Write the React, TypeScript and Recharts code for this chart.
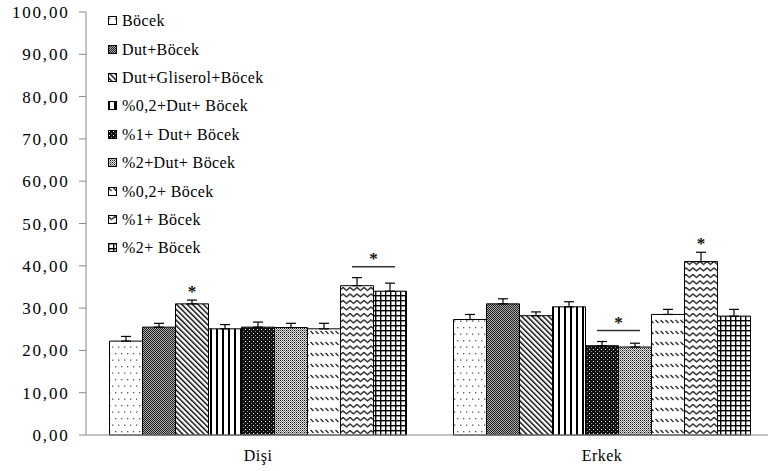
import React from 'react';
import { BarChart, Bar, XAxis, YAxis, ErrorBar, Legend } from 'recharts';

const CATEGORIES = ['Dişi', 'Erkek'];
const SERIES_NAMES = [
  'Böcek',
  'Dut+Böcek',
  'Dut+Gliserol+Böcek',
  '%0,2+Dut+ Böcek',
  '%1+ Dut+ Böcek',
  '%2+Dut+ Böcek',
  '%0,2+ Böcek',
  '%1+ Böcek',
  '%2+ Böcek',
];
const DISI_VALUES = [22.2, 25.5, 31.0, 25.1, 25.5, 25.4, 25.1, 35.3, 34.0];
const DISI_ERRORS = [1.1, 0.9, 0.9, 1.0, 1.2, 1.0, 1.3, 1.9, 1.9];
const ERKEK_VALUES = [27.3, 31.0, 28.2, 30.3, 21.1, 20.8, 28.5, 41.0, 28.1];
const ERKEK_ERRORS = [1.2, 1.2, 0.9, 1.2, 1.0, 0.9, 1.2, 2.2, 1.6];
const Y_TICKS = [0, 10, 20, 30, 40, 50, 60, 70, 80, 90, 100];
const STAR_MARKS = [
  { category: 0, series: 2 },
  { category: 1, series: 7 },
];
const PAIR_MARKS = [
  { category: 0, from: 7, to: 8 },
  { category: 1, from: 4, to: 5 },
];

const VALUES = [DISI_VALUES, ERKEK_VALUES];
const ERRORS = [DISI_ERRORS, ERKEK_ERRORS];

const data = CATEGORIES.map((name, ci) => {
  const row: any = { name };
  SERIES_NAMES.forEach((_, si) => {
    row['s' + si] = VALUES[ci][si];
    row['e' + si] = [0, ERRORS[ci][si]];
  });
  return row;
});

const FONT = '"Liberation Serif", "Times New Roman", serif';

const Patterns = () => (
  <svg width="0" height="0" style={{ position: 'absolute', left: 0, top: 0 }}>
    <defs>
      <pattern id="p0" width="6" height="13" patternUnits="userSpaceOnUse">
        <rect width="6" height="13" fill="#fff" />
        <rect x="1" y="2" width="1.3" height="1.3" fill="#555" />
        <rect x="4" y="8.5" width="1.3" height="1.3" fill="#555" />
      </pattern>
      <pattern id="p1" width="2" height="2" patternUnits="userSpaceOnUse">
        <rect width="2" height="2" fill="#aaa" />
        <rect x="0" y="0" width="1" height="1" fill="#222" />
        <rect x="1" y="1" width="1" height="1" fill="#222" />
      </pattern>
      <pattern id="p2" width="3.8" height="10" patternUnits="userSpaceOnUse" patternTransform="rotate(-45)">
        <rect width="3.8" height="10" fill="#fff" />
        <rect x="0" y="0" width="1.4" height="10" fill="#000" />
      </pattern>
      <pattern id="p3" width="6" height="6" patternUnits="userSpaceOnUse">
        <rect width="6" height="6" fill="#fff" />
        <rect x="0" y="0" width="2" height="6" fill="#000" />
      </pattern>
      <pattern id="p4" width="4" height="4" patternUnits="userSpaceOnUse">
        <rect width="4" height="4" fill="#111" />
        <rect x="1" y="1" width="1" height="1" fill="#fff" />
        <rect x="3" y="3" width="1" height="1" fill="#888" />
      </pattern>
      <pattern id="p5" width="4" height="4" patternUnits="userSpaceOnUse">
        <rect width="4" height="4" fill="#ddd" />
        <rect x="0" y="0" width="1" height="1" fill="#000" />
        <rect x="2" y="2" width="1" height="1" fill="#000" />
        <rect x="2" y="0" width="1" height="1" fill="#444" />
        <rect x="0" y="2" width="1" height="1" fill="#444" />
        <rect x="1" y="1" width="1" height="1" fill="#888" />
        <rect x="3" y="3" width="1" height="1" fill="#888" />
        <rect x="1" y="3" width="1" height="1" fill="#888" />
        <rect x="3" y="1" width="1" height="1" fill="#888" />
      </pattern>
      <pattern id="p6" width="5" height="11" patternUnits="userSpaceOnUse">
        <rect width="5" height="11" fill="#fff" />
        <line x1="0.5" y1="1" x2="3.5" y2="4" stroke="#222" strokeWidth="1.2" />
      </pattern>
      <pattern id="p7" width="7" height="6.5" patternUnits="userSpaceOnUse">
        <rect width="7" height="6.5" fill="#fff" />
        <polyline points="-1.75,3.5 0,1.5 3.5,4.5 7,1.5 8.75,3.5" fill="none" stroke="#111" strokeWidth="1.2" strokeLinejoin="round" />
      </pattern>
      <pattern id="p8" width="5" height="5" patternUnits="userSpaceOnUse">
        <rect width="5" height="5" fill="#fff" />
        <rect x="0" y="0" width="1.4" height="5" fill="#000" />
        <rect x="0" y="0" width="5" height="1.4" fill="#000" />
      </pattern>
    </defs>
  </svg>
);

const renderLegend = () => (
  <div style={{ fontFamily: FONT, fontSize: 16, color: '#000' }}>
    {SERIES_NAMES.map((n, i) => (
      <div key={n} style={{ height: 28.4, display: 'flex', alignItems: 'center', whiteSpace: 'nowrap' }}>
        <svg width="10" height="10" style={{ marginRight: 4 }}>
          <rect x="0.5" y="0.5" width="8" height="8" fill={`url(#p${i})`} stroke="#000" strokeWidth="1" />
        </svg>
        <span style={{ letterSpacing: 0.4 }}>{n}</span>
      </div>
    ))}
  </div>
);

const renderAnno = (si: number) => (p: any) => {
  const x = Number(p.x);
  const y = Number(p.y);
  const width = Number(p.width);
  const height = Number(p.height);
  const ci = p.index;
  if (ci == null || !isFinite(x)) return null;
  const v = VALUES[ci][si];
  const k = height / v;
  const bottom = y + height;
  const cap = bottom - (v + ERRORS[ci][si]) * k;
  const els: any[] = [];
  if (STAR_MARKS.some((m) => m.category === ci && m.series === si)) {
    els.push(
      <text key="s" x={x + width / 2} y={cap - 3} textAnchor="middle" fontFamily={FONT} fontSize={17} fontWeight="bold" fill="#111">
        *
      </text>
    );
  }
  const pair = PAIR_MARKS.find((m) => m.category === ci && m.from === si);
  if (pair) {
    const v2 = VALUES[ci][pair.to];
    const cap2 = bottom - (v2 + ERRORS[ci][pair.to]) * k;
    const ly = Math.min(cap, cap2) - 11;
    const x1 = x + width * 0.35;
    const x2 = x + width * (pair.to - pair.from) + width * 0.65;
    els.push(<line key="l" x1={x1} x2={x2} y1={ly} y2={ly} stroke="#333" strokeWidth={1.5} />);
    els.push(
      <text key="ps" x={(x1 + x2) / 2} y={ly - 3} textAnchor="middle" fontFamily={FONT} fontSize={17} fontWeight="bold" fill="#111">
        *
      </text>
    );
  }
  return <g>{els}</g>;
};

const fmt = (v: number) => v.toFixed(2).replace('.', ',');

export default function App() {
  return (
    <div style={{ position: 'absolute', left: 0, top: 0, width: 768, height: 471, overflow: 'hidden', background: '#fff' }}>
      <Patterns />
      <BarChart
        width={774}
        height={471}
        data={data}
        margin={{ top: 12, right: 0, bottom: 6, left: 0 }}
        barGap={0}
        barCategoryGap={23.5}
        style={{ fontFamily: FONT }}
      >
        <XAxis
          xAxisId="edge"
          type="number"
          domain={[0, 2]}
          ticks={[0, 1, 2]}
          allowDataOverflow
          tick={false}
          axisLine={false}
          tickSize={5}
          height={0}
          stroke="#888"
        />
        <XAxis
          dataKey="name"
          tickLine={false}
          stroke="#888"
          height={30}
          tickSize={6}
          tickMargin={9}
          tick={{ fontFamily: FONT, fontSize: 16, fill: '#000', letterSpacing: 0.5 }}
        />
        <YAxis
          domain={[0, 100]}
          ticks={Y_TICKS}
          width={86}
          stroke="#888"
          tickSize={7}
          tickMargin={9.5}
          tickFormatter={fmt}
          tick={{ fontFamily: FONT, fontSize: 17, fill: '#000', letterSpacing: 1.8 }}
          interval={0}
        />
        <Legend
          layout="vertical"
          align="center"
          verticalAlign="middle"
          wrapperStyle={{ left: 108, top: 7, width: 'auto', height: 'auto' }}
          content={renderLegend}
        />
        {SERIES_NAMES.map((n, i) => (
          <Bar
            key={n}
            dataKey={'s' + i}
            name={n}
            fill={`url(#p${i})`}
            stroke="#000"
            strokeWidth={1}
            isAnimationActive={false}
            label={renderAnno(i)}
          >
            <ErrorBar dataKey={'e' + i} direction="y" width={5} stroke="#000" strokeWidth={1.2} />
          </Bar>
        ))}
      </BarChart>
    </div>
  );
}
